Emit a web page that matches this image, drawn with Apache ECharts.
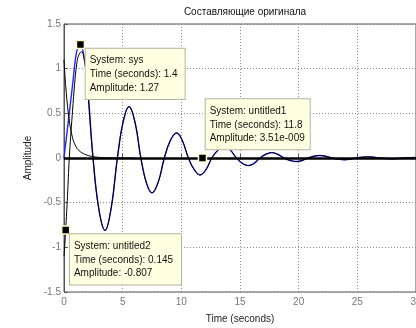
<!DOCTYPE html>
<html>
<head>
<meta charset="utf-8">
<script src="https://cdn.jsdelivr.net/npm/echarts@6/dist/echarts.min.js"></script>
<style>
  html, body { margin: 0; padding: 0; background: #fff; }
  #chart { width: 416px; height: 328px; }
</style>
</head>
<body>
<div id="chart"></div>
<script>
var FONT = '"Liberation Sans", Arial, sans-serif';

// untitled1 - fast exponential decay
var u1T = [0, 0.15, 0.37, 0.65, 1.0, 1.4, 1.9, 2.5, 3.2, 4.0, 6.0];
var u1V = [1.1, 0.8, 0.5, 0.27, 0.13, 0.07, 0.035, 0.015, 0.005, 0.001, 0];

// untitled2 - damped oscillation
var u2T = [0, 0.145, 0.3, 0.45, 0.7, 0.9, 1.08, 1.25, 1.5, 1.75, 1.98, 2.47, 2.98, 3.5, 4.02, 4.55,
  5.05, 5.54, 6.05, 6.55, 7.03, 7.5, 8.03, 8.55, 9.08, 9.6, 10.1, 10.6, 11.1, 11.6, 12.1, 12.6,
  13.13, 13.65, 14.17, 14.7, 15.2, 15.7, 16.2, 16.7, 17.2, 17.7, 18.2, 18.75, 19.3, 19.8, 20.3,
  20.8, 21.3, 21.8, 22.3, 22.85, 23.4, 23.9, 24.4, 24.9, 25.4, 25.9, 26.4, 26.9, 27.4, 27.9,
  28.4, 28.95, 29.5, 30];
var u2V = [-1.1, -0.807, -0.42, 0, 0.48, 0.82, 1.05, 1.15, 1.19, 1.08, 0.82, 0, -0.58, -0.81, -0.56, 0,
  0.41, 0.575, 0.4, 0, -0.28, -0.39, -0.27, 0, 0.2, 0.28, 0.19, 0, -0.13, -0.19, -0.13, 0,
  0.09, 0.13, 0.09, 0, -0.06, -0.085, -0.06, 0, 0.042, 0.06, 0.042, 0, -0.028, -0.04, -0.028,
  0, 0.02, 0.028, 0.02, 0, -0.013, -0.019, -0.013, 0, 0.009, 0.013, 0.009, 0, -0.006, -0.009,
  -0.006, 0, 0.004, 0.006];

// sys - blue
var sysT = [0, 0.15, 0.45, 0.75, 1.08, 1.4, 1.7, 1.98, 2.47, 2.98, 3.5, 4.02, 4.55,
  5.05, 5.54, 6.05, 6.55, 7.03, 7.5, 8.03, 8.55, 9.08, 9.6, 10.1, 10.6, 11.1, 11.6, 12.1, 12.6,
  13.13, 13.65, 14.17, 14.7, 15.2, 15.7, 16.2, 16.7, 17.2, 17.7, 18.2, 18.75, 19.3, 19.8, 20.3,
  20.8, 21.3, 21.8, 22.3, 22.85, 23.4, 23.9, 24.4, 24.9, 25.4, 25.9, 26.4, 26.9, 27.4, 27.9,
  28.4, 28.95, 29.5, 30];
var sysV = [0, 0.17, 0.5, 0.84, 1.19, 1.27, 1.14, 0.86, 0.01, -0.58, -0.81, -0.56, 0,
  0.41, 0.575, 0.4, 0, -0.28, -0.39, -0.27, 0, 0.2, 0.28, 0.19, 0, -0.13, -0.19, -0.13, 0,
  0.09, 0.13, 0.09, 0, -0.06, -0.085, -0.06, 0, 0.042, 0.06, 0.042, 0, -0.028, -0.04, -0.028,
  0, 0.02, 0.028, 0.02, 0, -0.013, -0.019, -0.013, 0, 0.009, 0.013, 0.009, 0, -0.006, -0.009,
  -0.006, 0, 0.004, 0.006];

// data tips
var tipSystems = ['sys', 'untitled1', 'untitled2'];
var tipTimes = [1.4, 11.8, 0.145];
var tipAmps = [1.27, 3.51e-9, -0.807];
var tipAmpLabels = ['1.27', '3.51e-009', '-0.807'];

var xTicks = [0, 5, 10, 15, 20, 25, 30];
var yTicks = [-1.5, -1, -0.5, 0, 0.5, 1, 1.5];

function pairs(t, v) {
  var out = [];
  for (var i = 0; i < t.length; i++) out.push([t[i], v[i]]);
  return out;
}

function tip(i, pos, w) {
  return {
    coord: [tipTimes[i], tipAmps[i]],
    symbol: 'rect',
    symbolSize: 8,
    itemStyle: { color: '#000', borderColor: '#ffffc8', borderWidth: 1.5 },
    label: {
      show: true,
      position: pos,
      formatter: 'System: ' + tipSystems[i] + '\nTime (seconds): ' + tipTimes[i] +
        '\nAmplitude: ' + tipAmpLabels[i],
      backgroundColor: '#ffffe1',
      borderColor: '#b4b4a0',
      borderWidth: 1,
      padding: [5, 4, 4, 4],
      width: w,
      lineHeight: 13.7,
      fontSize: 10,
      fontFamily: FONT,
      color: '#111',
      align: 'left',
      verticalAlign: 'top'
    }
  };
}

var chart = echarts.init(document.getElementById('chart'), null, { renderer: 'canvas' });

var option = {
  animation: false,
  backgroundColor: '#fff',
  title: {
    text: 'Составляющие оригинала',
    left: 240,
    top: 2,
    textAlign: 'center',
    textStyle: { fontSize: 10, fontWeight: 'normal', color: '#111', fontFamily: FONT }
  },
  grid: {
    left: 64, right: 0, top: 24, bottom: 36,
    outerBoundsMode: 'none', containLabel: false,
    show: true, borderColor: '#555', borderWidth: 1
  },
  xAxis: {
    type: 'value', min: xTicks[0], max: xTicks[xTicks.length - 1], interval: 5,
    name: 'Time (seconds)', nameLocation: 'middle', nameGap: 22,
    nameTextStyle: { fontSize: 10, color: '#222', fontFamily: FONT },
    axisLine: { lineStyle: { color: '#555', width: 1 } },
    axisTick: { inside: true, length: 4, lineStyle: { color: '#555' } },
    axisLabel: { fontSize: 10, color: '#777', margin: 5, fontFamily: FONT },
    splitLine: { show: true, lineStyle: { color: '#8a8a8a', type: [1, 2] } }
  },
  yAxis: {
    type: 'value', min: yTicks[0], max: yTicks[yTicks.length - 1], interval: 0.5,
    name: 'Amplitude', nameLocation: 'middle', nameGap: 30,
    nameTextStyle: { fontSize: 10, color: '#222', fontFamily: FONT },
    axisLine: { show: true, onZero: false, lineStyle: { color: '#555', width: 1 } },
    axisTick: { show: true, inside: true, length: 4, lineStyle: { color: '#555' } },
    axisLabel: { fontSize: 10, color: '#777', margin: 3, fontFamily: FONT },
    splitLine: { show: true, lineStyle: { color: '#8a8a8a', type: [1, 2] } }
  },
  series: [
    {
      name: 'sys', type: 'line', data: pairs(sysT, sysV), smooth: 0.4,
      showSymbol: false, lineStyle: { color: '#2424ff', width: 1.4 }, z: 2,
      markPoint: { data: [tip(0, [10, 9], 91)] }
    },
    {
      name: 'untitled1', type: 'line', data: pairs(u1T, u1V), smooth: 0.4,
      showSymbol: false, lineStyle: { color: '#000', width: 1 }, z: 3,
      markLine: {
        silent: true, symbol: ['none', 'none'], label: { show: false },
        lineStyle: { color: '#000', width: 2.5, type: 'solid' },
        data: [{ yAxis: 0 }]
      },
      markPoint: { data: [tip(1, [8, -54], 96)] }
    },
    {
      name: 'untitled2', type: 'line', data: pairs(u2T, u2V), smooth: 0.4,
      showSymbol: false, lineStyle: { color: '#000', width: 1 }, z: 3,
      markPoint: { data: [tip(2, [9, 9], 103)] }
    }
  ]
};

chart.setOption(option);
</script>
</body>
</html>
